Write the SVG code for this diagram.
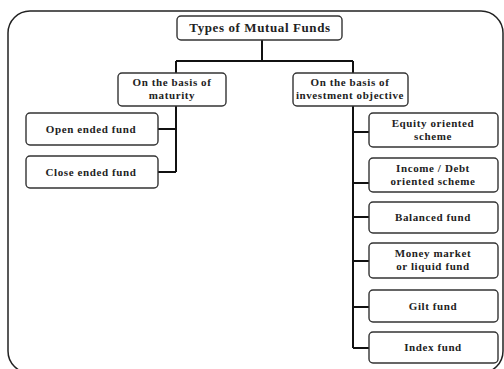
<svg xmlns="http://www.w3.org/2000/svg" width="504" height="369" viewBox="0 0 504 369">
<style>
.bg{fill:#ffffff}
.frame{fill:none;stroke:#222;stroke-width:1.5}
.box{fill:#fff;stroke:#333;stroke-width:1.4}
.conn{fill:none;stroke:#111;stroke-width:2}
text{font-family:"Liberation Serif","DejaVu Serif",serif;font-weight:bold;fill:#222;text-anchor:middle;font-size:11px;letter-spacing:0.6px}
.title{font-size:13px}
</style>
<rect class="bg" x="0" y="0" width="504" height="369"/>
<rect class="frame" x="8" y="11" width="495" height="362" rx="22" ry="22"/>
<g id="connectors">
<path class="conn" d="M262 40 V61 M176 61 H353 M176 61 V73 M353 61 V73"/>
<path class="conn" d="M176 106 V172 M158 129 H176 M158 172 H176"/>
<path class="conn" d="M353 106 V348 M353 132 H369 M353 183 H369 M353 217 H369 M353 261 H369 M353 307 H369 M353 348 H369"/>
</g>
<g id="n-root"><rect class="box" x="177" y="16" width="165" height="24" rx="4"/><text class="title" x="260" y="32">Types of Mutual Funds</text></g>
<g id="n-maturity"><rect class="box" x="118" y="73" width="108" height="33" rx="4"/><text x="172" y="86">On the basis of</text><text x="172" y="99">maturity</text></g>
<g id="n-objective"><rect class="box" x="293" y="73" width="115" height="33" rx="4"/><text x="350" y="86">On the basis of</text><text x="350" y="99">investment objective</text></g>
<g id="n-open"><rect class="box" x="26" y="113" width="132" height="32" rx="4"/><text x="91" y="133">Open ended fund</text></g>
<g id="n-close"><rect class="box" x="26" y="156" width="132" height="32" rx="4"/><text x="91" y="176">Close ended fund</text></g>
<g id="n-equity"><rect class="box" x="369" y="113" width="129" height="34" rx="4"/><text x="433" y="127">Equity oriented</text><text x="433" y="140">scheme</text></g>
<g id="n-income"><rect class="box" x="369" y="158" width="129" height="34" rx="4"/><text x="433" y="172">Income / Debt</text><text x="433" y="185">oriented scheme</text></g>
<g id="n-balanced"><rect class="box" x="369" y="202" width="129" height="31" rx="4"/><text x="433" y="221">Balanced fund</text></g>
<g id="n-money"><rect class="box" x="369" y="243" width="129" height="35" rx="4"/><text x="433" y="257">Money market</text><text x="433" y="270">or liquid fund</text></g>
<g id="n-gilt"><rect class="box" x="369" y="290" width="129" height="32" rx="4"/><text x="433" y="310">Gilt fund</text></g>
<g id="n-index"><rect class="box" x="369" y="332" width="129" height="31" rx="4"/><text x="433" y="351">Index fund</text></g>
</svg>
